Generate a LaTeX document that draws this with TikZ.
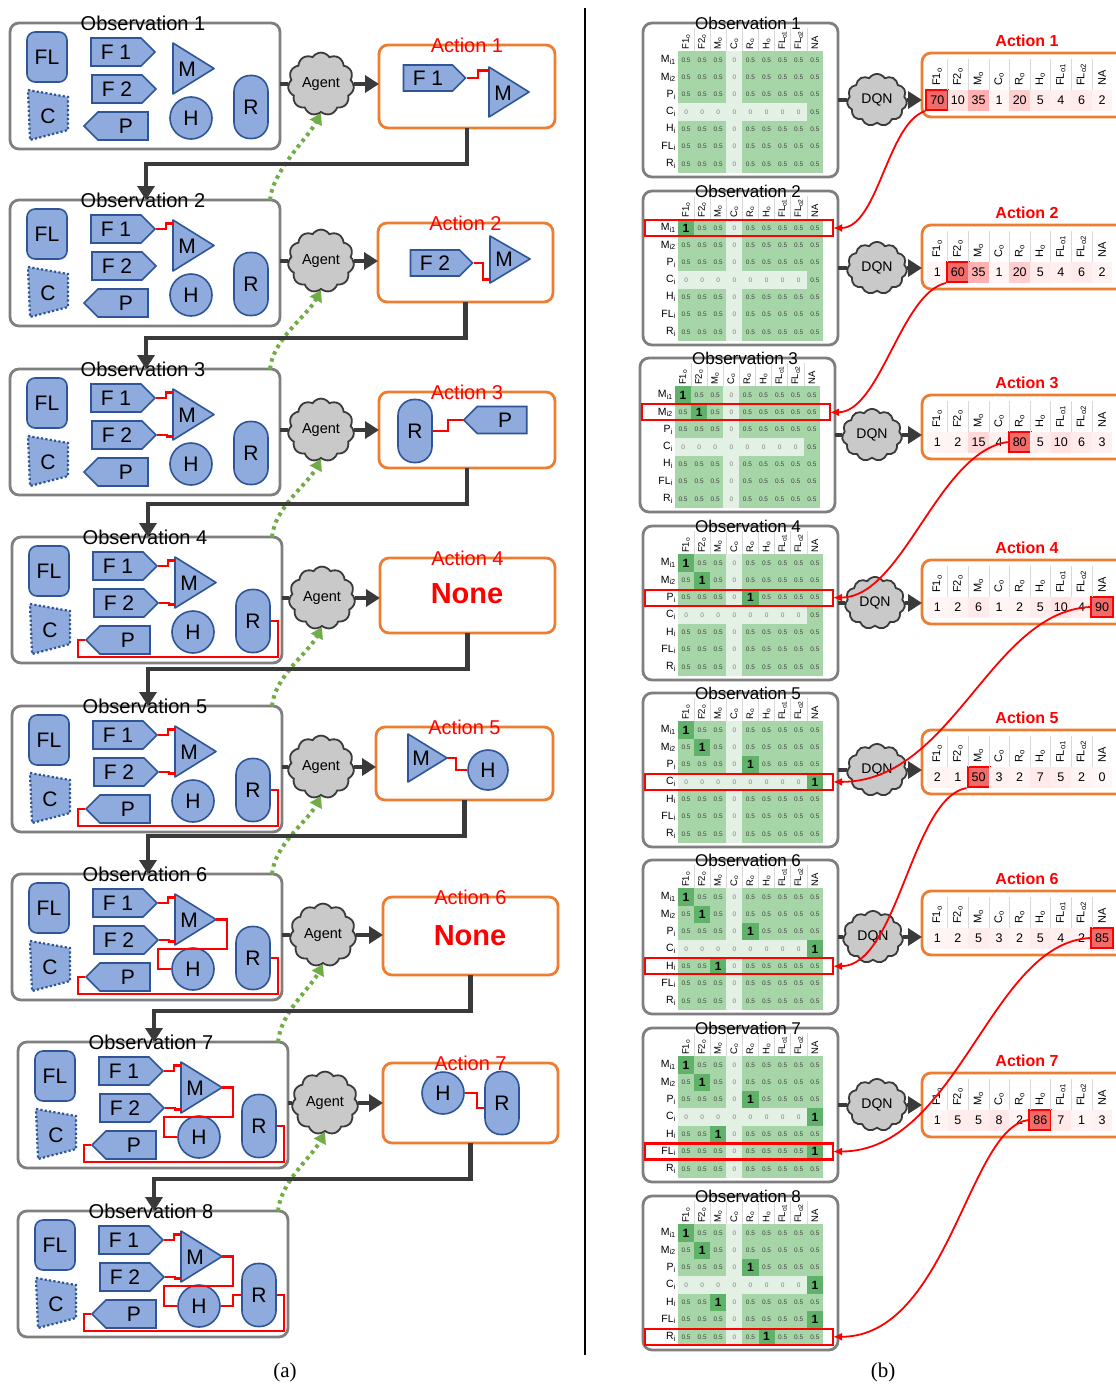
\documentclass[tikz,border=0pt]{standalone}
\usepackage{fontspec}
\setmainfont{Liberation Sans}
\newfontfamily\capserif{Liberation Serif}
\usetikzlibrary{shapes.symbols,shapes.geometric,arrows.meta,calc}
\definecolor{compfill}{HTML}{8FAADC}
\definecolor{compdraw}{HTML}{2F5597}
\definecolor{boxgray}{HTML}{7F7F7F}
\definecolor{actorange}{HTML}{ED7D31}
\definecolor{flowgray}{HTML}{3A3A3A}
\definecolor{ggreen}{HTML}{70AD47}
\definecolor{cloudfill}{HTML}{C9C9C9}
\definecolor{gmid}{RGB}{166,214,168}
\definecolor{glight}{RGB}{226,241,227}
\definecolor{gdark}{RGB}{96,178,106}
\definecolor{hlred}{HTML}{F26B6B}
\newcommand{\onecolof}[1]{\ifcase#1 0\or 1\or 4\or 8\or 2\or 8\or 5\fi}
\tikzset{
 comp/.style={draw=compdraw, fill=compfill, line width=1.6pt, font=\fontsize{21}{21}\selectfont, inner sep=0pt},
 complab/.style={font=\fontsize{21}{21}\selectfont, inner sep=0pt},
 sigr/.style={comp, signal, signal to=east},
 sigl/.style={comp, signal, signal to=west},
 pill/.style={comp, rounded corners=16pt, minimum width=34pt, minimum height=63pt},
 circ/.style={comp, circle, minimum size=42pt},
 tri/.style={draw=compdraw, fill=compfill, line width=1.6pt, line join=round},
 obsframe/.style={draw=boxgray, line width=2.8pt, rounded corners=9pt, fill=white, inner sep=0pt, outer sep=0pt},
 actframe/.style={draw=actorange, line width=2.8pt, rounded corners=9pt, fill=white, inner sep=0pt, outer sep=0pt},
 titA/.style={font=\fontsize{20}{20}\selectfont, inner sep=0pt},
 acttitA/.style={font=\fontsize{20}{20}\selectfont, text=red, inner sep=0pt},
 nonetext/.style={font=\bfseries\fontsize{29}{29}\selectfont, text=red, inner sep=0pt},
 redconn/.style={draw=red, line width=2.2pt},
 flow/.style={draw=flowgray, line width=4.5pt},
 flowarr/.style={flow, -{Triangle[length=14pt,width=17pt]}},
 greenarr/.style={draw=ggreen, line width=4pt, dash pattern=on 3.5pt off 4pt, -{Triangle[length=11pt,width=13pt]}},
 agentcloud/.style={cloud, cloud puffs=11, cloud puff arc=115, draw=flowgray, line width=1.8pt, fill=cloudfill, minimum width=66pt, minimum height=48pt, inner sep=1pt, font=\fontsize{14.5}{15}\selectfont},
 dqncloud/.style={agentcloud, minimum width=60pt, minimum height=40pt, font=\fontsize{14}{14}\selectfont},
 titB/.style={font=\fontsize{17}{17}\selectfont, inner sep=0pt},
 acttitB/.style={font=\bfseries\fontsize{16}{16}\selectfont, text=red, inner sep=0pt},
 valtext/.style={font=\fontsize{12.5}{13}\selectfont, inner sep=0pt},
 hlcell/.style={draw=red, line width=2pt, fill=hlred, minimum width=22pt, minimum height=20pt, inner sep=0pt, font=\fontsize{12.5}{13}\selectfont},
 collabA/.style={font=\fontsize{11}{11}\selectfont, inner sep=0pt},
 collab/.style={font=\fontsize{9.5}{10}\selectfont, inner sep=0pt},
 rowlab/.style={font=\fontsize{10.5}{11}\selectfont, inner sep=0pt},
 halftext/.style={font=\fontsize{6.5}{7}\selectfont, text=black!75, inner sep=0pt},
 zerotext/.style={font=\fontsize{6.5}{7}\selectfont, text=black!50, inner sep=0pt},
 onetext/.style={font=\bfseries\fontsize{12}{12}\selectfont, inner sep=0pt},
 hlrow/.style={draw=red, line width=2.2pt, minimum width=188pt, minimum height=16pt, inner sep=0pt, outer sep=0pt},
 redcurve/.style={draw=red, line width=1.8pt, -{Latex[length=9pt,width=8pt]}},
 capfont/.style={font=\capserif\fontsize{21}{21}\selectfont, inner sep=0pt}
}
% observation box of panel (a)
\newcommand{\obsA}[3]{%
\begin{scope}[shift={(#2,#3)}]
\node[obsframe, anchor=north west, minimum width=270pt, minimum height=126pt] (oa#1) at (0,0) {};
\node[comp, rounded corners=8pt, minimum width=40pt, minimum height=50pt] (fl#1) at (37,34) {FL};
\fill[compfill] (18,67) -- (58,74) -- (58,107) -- (20,117) -- cycle;
\draw[draw=compdraw, line width=2.2pt, dash pattern=on 2.2pt off 2.2pt] (18,67) -- (58,74) -- (58,107) -- (20,117) -- cycle;
\node[complab] (cc#1) at (38,93) {C};
\node[sigr, minimum width=64pt, minimum height=28pt] (fa#1) at (106,29) {F 1};
\node[sigr, minimum width=64pt, minimum height=28pt] (fb#1) at (107,66) {F 2};
\node[sigl, minimum width=64pt, minimum height=28pt] (pp#1) at (113,103) {\hspace*{6pt}P};
\draw[tri] (163,20) -- (204,45.5) -- (163,71) -- cycle;
\coordinate (mt#1) at (204,45.5);
\coordinate (mu#1) at (163,23.5);
\coordinate (md#1) at (163,67.5);
\node[complab] (mm#1) at (177,46) {M};
\node[circ] (hh#1) at (181,95) {H};
\node[pill] (rr#1) at (241,84) {R};
\node[titA] (oat#1) at (133,0) {Observation #1};
\end{scope}}
% observation matrix of panel (b)
\newcommand{\obsB}[4]{%
\begin{scope}[shift={(#2,#3)}]
\node[obsframe, anchor=north west, minimum width=195pt, minimum height=154pt] (ob#1) at (0,0) {};
\foreach \rowi in {0,...,6}{%
 \foreach \coli in {0,...,8}{%
  \edef\oc{\onecolof{\rowi}}%
  \def\kd{1}%
  \ifnum\coli=3 \def\kd{0}\fi
  \ifnum\rowi=3 \ifnum\coli<8 \def\kd{0}\fi\fi
  \ifnum\rowi<#4 \ifnum\coli=\oc\relax \def\kd{2}\fi\fi
  \ifcase\kd
   \fill[glight] (35+16.1*\coli,28.4+17.3*\rowi) rectangle ++(16.1,17.3);
   \node[zerotext] (m#1c\rowi-\coli) at (43.05+16.1*\coli,37+17.3*\rowi) {0};
  \or
   \fill[gmid] (35+16.1*\coli,28.4+17.3*\rowi) rectangle ++(16.1,17.3);
   \node[halftext] (m#1c\rowi-\coli) at (43.05+16.1*\coli,37+17.3*\rowi) {0.5};
  \or
   \fill[gdark] (35+16.1*\coli,28.4+17.3*\rowi) rectangle ++(16.1,17.3);
   \node[onetext] (m#1c\rowi-\coli) at (43.05+16.1*\coli,37+17.3*\rowi) {1};
  \fi
 }}%
\foreach \lb [count=\ii from 0] in {M\textsubscript{i1},M\textsubscript{i2},P\textsubscript{i},C\textsubscript{i},H\textsubscript{i},FL\textsubscript{i},R\textsubscript{i}}{%
 \node[rowlab, anchor=east] (m#1l\ii) at (33,37+17.3*\ii) {\lb};}
\foreach \ii in {1,...,8}{\draw[gray!30, line width=0.5pt] (35+16.1*\ii,5) -- (35+16.1*\ii,28.4);}
\foreach \lb [count=\ii from 0] in {F1\textsubscript{o},F2\textsubscript{o},M\textsubscript{o},C\textsubscript{o},R\textsubscript{o},H\textsubscript{o},FL\textsubscript{o1},FL\textsubscript{o2},NA}{%
 \node[collab, rotate=90, anchor=west] (m#1h\ii) at (43.05+16.1*\ii,27) {\lb};}
\node[titB] (obt#1) at (105,0) {Observation #1};
\end{scope}}
% action table of panel (b)
\newcommand{\actB}[4]{%
\node[actframe, anchor=north west, minimum width=240pt, minimum height=64pt] (ab#1) at (922,#2) {};
\node[acttitB] (abt#1) at (1027,#2-12) {Action #1};
\foreach \vv [count=\ii from 0] in {#3}{%
 \ifnum\ii=#4\relax
  \node[hlcell] (hc#1) at (937.3+20.6*\ii,#2+47) {\vv};
 \else
  \pgfmathsetmacro\pk{min(55,3+0.8*\vv)}
  \fill[red!\pk!white] (927+20.6*\ii,#2+37) rectangle ++(20.6,21);
  \node[valtext] (v#1x\ii) at (937.3+20.6*\ii,#2+47) {\vv};
 \fi}
\foreach \ii in {1,...,8}{\draw[gray!30, line width=0.5pt] (927+20.6*\ii,#2+6) -- (927+20.6*\ii,#2+37);}
\foreach \lb [count=\ii from 0] in {F1\textsubscript{o},F2\textsubscript{o},M\textsubscript{o},C\textsubscript{o},R\textsubscript{o},H\textsubscript{o},FL\textsubscript{o1},FL\textsubscript{o2},NA}{%
 \node[collabA, rotate=90, anchor=west] (h#1x\ii) at (937.3+20.6*\ii,#2+33) {\lb};}
}
\begin{document}
\begin{tikzpicture}[x=1pt, y=-1pt]
\useasboundingbox (0,0) rectangle (1116,1384);
\fill[white] (0,0) rectangle (1116,1384);

% ---------------- panel (a) ----------------
\obsA{1}{10}{23}
\obsA{2}{10}{200}
\obsA{3}{10}{369}
\obsA{4}{12}{537}
\obsA{5}{12}{706}
\obsA{6}{12}{874}
\obsA{7}{18}{1042}
\obsA{8}{18}{1211}

% red links inside observations
\draw[redconn] (fa2.east) -- ++(10,0) |- (mu2);
\foreach \k in {3,...,8}{
 \draw[redconn] (fa\k.east) -- ++(10,0) |- (mu\k);
 \draw[redconn] (fb\k.east) -- ++(10,0) |- (md\k);
}
\foreach \k in {4,...,8}{
 \draw[redconn] (pp\k.west) -- ++(-7,0) |- ($(rr\k.east)+(7,36)$) |- (rr\k.east);
}
\foreach \k in {6,7,8}{
 \draw[redconn] (mt\k) -- ++(11,0) |- ($(hh\k.west)+(-13,-20)$) |- (hh\k.west);
}
\draw[redconn] (hh8.east) -- ++(12,0) |- (rr8.west);

% action boxes (a)
\node[actframe, anchor=north west, minimum width=176pt, minimum height=83pt] (ac1) at (379,45) {};
\node[actframe, anchor=north west, minimum width=175pt, minimum height=79pt] (ac2) at (378,223) {};
\node[actframe, anchor=north west, minimum width=176pt, minimum height=76pt] (ac3) at (379,392) {};
\node[actframe, anchor=north west, minimum width=175pt, minimum height=75pt] (ac4) at (380,558) {};
\node[actframe, anchor=north west, minimum width=177pt, minimum height=73pt] (ac5) at (376,727) {};
\node[actframe, anchor=north west, minimum width=175pt, minimum height=78pt] (ac6) at (383,897) {};
\node[actframe, anchor=north west, minimum width=175pt, minimum height=80pt] (ac7) at (383,1063) {};
\foreach \k in {1,...,7}{\node[acttitA] (act\k) at (ac\k.north) {Action \k};}

% action 1 content
\node[sigr, minimum width=62pt, minimum height=26pt] (x1f) at (428,78) {F 1};
\draw[tri] (489,67) -- (529,92) -- (489,117) -- cycle;
\coordinate (x1mu) at (489,70.5);
\node[complab] (x1m) at (503,93) {M};
\draw[redconn] (x1f.east) -- ++(11,0) |- (x1mu);
% action 2 content
\node[sigr, minimum width=62pt, minimum height=26pt] (x2f) at (435,263) {F 2};
\draw[tri] (490,236) -- (530,259) -- (490,283) -- cycle;
\coordinate (x2md) at (490,279.5);
\node[complab] (x2m) at (504,259) {M};
\draw[redconn] (x2f.east) -- ++(9,0) |- (x2md);
% action 3 content
\node[pill] (x3r) at (415,431) {R};
\node[sigl, minimum width=63pt, minimum height=27pt] (x3p) at (502,420) {\hspace*{6pt}P};
\draw[redconn] (x3r.east) -- ++(15,0) |- (x3p.west);
% action 4
\node[nonetext] (x4n) at (467,594) {None};
% action 5 content
\draw[tri] (408,734) -- (447,758) -- (408,782) -- cycle;
\coordinate (x5mt) at (447,758);
\node[complab] (x5m) at (421,758) {M};
\node[circ, minimum size=40pt] (x5h) at (488,770) {H};
\draw[redconn] (x5mt) -- ++(9,0) |- (x5h.west);
% action 6
\node[nonetext] (x6n) at (470,936) {None};
% action 7 content
\node[circ] (x7h) at (443,1093) {H};
\node[pill] (x7r) at (502,1103) {R};
\draw[redconn] (x7h.east) -- ++(12,0) |- ($(x7r.west)+(0,5)$);

% agents
\node[agentcloud] (ag1) at (321,84) {Agent};
\node[agentcloud] (ag2) at (321,261) {Agent};
\node[agentcloud] (ag3) at (321,430) {Agent};
\node[agentcloud] (ag4) at (322,598) {Agent};
\node[agentcloud] (ag5) at (321,767) {Agent};
\node[agentcloud] (ag6) at (323,935) {Agent};
\node[agentcloud] (ag7) at (325,1103) {Agent};

% green feedback arrows
\foreach \k [evaluate=\k as \kn using int(\k+1)] in {1,...,7}{
 \draw[greenarr] ($(oa\kn.north east)+(-10,0)$) .. controls +(3,-30) and +(-14,26) .. (ag\k.south);
}
% flows
\foreach \k [evaluate=\k as \kn using int(\k+1)] in {1,...,7}{
 \draw[flow] (oa\k.east |- ag\k.west) -- (ag\k.west);
 \draw[flowarr] (ag\k.east) -- (ag\k.east -| ac\k.west);
 \draw[flowarr] (ac\k.south) -- ++(0,36) -| ($(oa\kn.north west)+(136,0)$);
}

% separator
\draw[line width=1.2pt] (585,8) -- (585,1355);

% ---------------- panel (b) ----------------
\obsB{1}{643}{23}{0}
\obsB{2}{643}{191}{1}
\obsB{3}{640}{358}{2}
\obsB{4}{643}{526}{3}
\obsB{5}{643}{693}{4}
\obsB{6}{643}{860}{5}
\obsB{7}{643}{1028}{6}
\obsB{8}{643}{1196}{7}
\foreach \k [evaluate=\k as \off using 37+17.3*(\k-2)] in {2,...,8}{
 \node[hlrow] (hl\k) at ($(ob\k.north west)+(96,\off)$) {};
}

\actB{1}{53}{70,10,35,1,20,5,4,6,2}{0}
\actB{2}{225}{1,60,35,1,20,5,4,6,2}{1}
\actB{3}{395}{1,2,15,4,80,5,10,6,3}{4}
\actB{4}{560}{1,2,6,1,2,5,10,4,90}{8}
\actB{5}{730}{2,1,50,3,2,7,5,2,0}{2}
\actB{6}{891}{1,2,5,3,2,5,4,2,85}{8}
\actB{7}{1073}{1,5,5,8,2,86,7,1,3}{5}

\node[dqncloud] (dq1) at (877,100) {DQN};
\node[dqncloud] (dq2) at (877,268) {DQN};
\node[dqncloud] (dq3) at (872,435) {DQN};
\node[dqncloud] (dq4) at (875,603) {DQN};
\node[dqncloud] (dq5) at (877,770) {DQN};
\node[dqncloud] (dq6) at (873,937) {DQN};
\node[dqncloud] (dq7) at (877,1105) {DQN};
\foreach \k in {1,...,7}{
 \draw[flow] (ob\k.east |- dq\k.west) -- (dq\k.west);
 \draw[flowarr] (dq\k.east) -- (dq\k.east -| ab\k.west);
}

% red selection curves
\draw[redcurve] (hc1.south west) .. controls +(-38,12) and +(45,0) .. (hl2.east);
\draw[redcurve] (hc2.south west) .. controls +(-45,10) and +(50,0) .. (hl3.east);
\draw[redcurve] (hc3.west) .. controls +(-70,10) and +(70,0) .. (hl4.east);
\draw[redcurve] (hc4.west) .. controls +(-100,5) and +(120,0) .. (hl5.east);
\draw[redcurve] (hc5.south west) .. controls +(-55,10) and +(65,0) .. (hl6.east);
\draw[redcurve] (hc6.west) .. controls +(-100,5) and +(125,0) .. (hl7.east);
\draw[redcurve] (hc7.west) .. controls +(-60,8) and +(115,0) .. (hl8.east);

% captions
\node[capfont] (capa) at (285,1372) {(a)};
\node[capfont] (capb) at (883,1372) {(b)};
\end{tikzpicture}
\end{document}
